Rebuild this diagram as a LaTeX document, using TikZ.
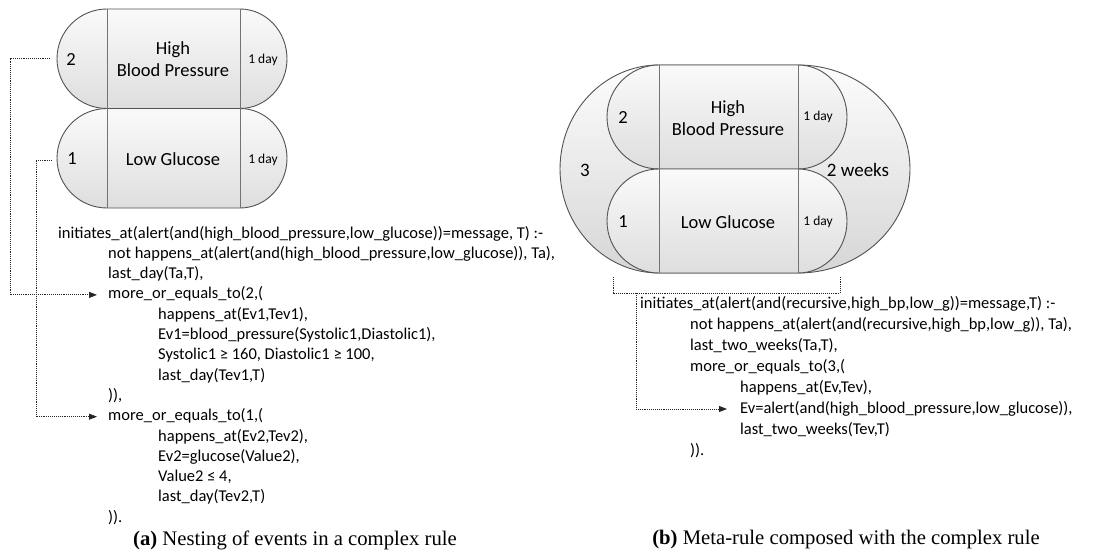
\documentclass[tikz,border=0pt]{standalone}
\usepackage{fontspec}
\setmainfont{Carlito}
\newfontfamily\capfont{Liberation Serif}
\usetikzlibrary{arrows.meta}

\tikzset{
  capsule/.style={draw=black!68, line width=0.9pt, top color=black!2, bottom color=black!13},
  outershape/.style={draw=black!68, line width=0.9pt, top color=black!1, bottom color=black!16},
  divider/.style={draw=black!55, line width=0.9pt},
  code/.style={anchor=west, inner sep=0pt, text height=12pt, text depth=4pt,
    font=\fontsize{16.5}{20}\selectfont},
  biglabel/.style={inner sep=0pt, align=center, font=\fontsize{18.5}{22}\selectfont},
  daylabel/.style={inner sep=0pt, font=\fontsize{13.5}{16}\selectfont},
  outerlabel/.style={inner sep=0pt, font=\fontsize{19}{22}\selectfont},
  caption/.style={inner sep=0pt, font=\capfont\fontsize{20.7}{24}\selectfont},
  conn/.style={densely dotted, line width=0.9pt, black!85},
  arr/.style={-{Triangle[length=8pt,width=6pt]}}
}

\begin{document}
\begin{tikzpicture}[x=1pt,y=-1pt]
\useasboundingbox (0,0) rectangle (1094,556);
\fill[white] (0,0) rectangle (1094,556);

% ---------- (a) two stacked event capsules ----------
\path[capsule] (107,9) -- (240,9)
  arc[start angle=-90, end angle=90, x radius=47, y radius=49.75]
  -- (107,108.5)
  arc[start angle=90, end angle=270, x radius=50, y radius=49.75] -- cycle;
\draw[divider] (107,9) -- (107,108.5) (240,9) -- (240,108.5);

\path[capsule] (107,108.5) -- (240,108.5)
  arc[start angle=-90, end angle=90, x radius=47, y radius=49.75]
  -- (107,208)
  arc[start angle=90, end angle=270, x radius=50, y radius=49.75] -- cycle;
\draw[divider] (107,108.5) -- (107,208) (240,108.5) -- (240,208);

\node[biglabel] (n2a) at (71,59) {2};
\node[biglabel] (hbpa) at (173,59) {High\\Blood Pressure};
\node[daylabel] (d2a) at (263,60) {1 day};
\node[biglabel] (n1a) at (72,159) {1};
\node[biglabel] (lga) at (173,159) {Low Glucose};
\node[daylabel] (d1a) at (263,160) {1 day};

\coordinate (capA2w) at (57,58.75);
\coordinate (capA1w) at (57,160);
\coordinate (railA) at (10,0);
\coordinate (railB) at (36,0);

% ---------- (a) rule text ----------
\node[code] (a1)  at (58,234)    {initiates\_at(alert(and(high\_blood\_pressure,low\_glucose))=message, T) :-};
\node[code] (a2)  at (108,254.3) {not happens\_at(alert(and(high\_blood\_pressure,low\_glucose)), Ta),};
\node[code] (a3)  at (108,274.6) {last\_day(Ta,T),};
\node[code] (a4)  at (108,294.9) {more\_or\_equals\_to(2,(};
\node[code] (a5)  at (158,315.2) {happens\_at(Ev1,Tev1),};
\node[code] (a6)  at (158,335.5) {Ev1=blood\_pressure(Systolic1,Diastolic1),};
\node[code] (a7)  at (158,355.8) {Systolic1 ≥ 160, Diastolic1 ≥ 100,};
\node[code] (a8)  at (158,376.1) {last\_day(Tev1,T)};
\node[code] (a9)  at (108,396.4) {)),};
\node[code] (a10) at (108,416.7) {more\_or\_equals\_to(1,(};
\node[code] (a11) at (158,437)   {happens\_at(Ev2,Tev2),};
\node[code] (a12) at (158,457.3) {Ev2=glucose(Value2),};
\node[code] (a13) at (158,477.6) {Value2 ≤ 4,};
\node[code] (a14) at (158,497.9) {last\_day(Tev2,T)};
\node[code] (a15) at (108,518.2) {)).};

\draw[conn, arr, shorten >=11pt] ([xshift=-7pt]capA2w) -- (capA2w -| railA) |- (a4.west);
\draw[conn, arr, shorten >=11pt] ([xshift=-5pt]capA1w) -- (capA1w -| railB) |- (a10.west);

% ---------- (b) meta-rule shape ----------
\path[outershape] (659,65) -- (798,65)
  arc[start angle=-90, end angle=90, x radius=112, y radius=104]
  -- (659,273)
  arc[start angle=90, end angle=270, x radius=99, y radius=104] -- cycle;

\path[capsule] (659,65) -- (798,65)
  arc[start angle=-90, end angle=90, x radius=49, y radius=52]
  -- (659,169)
  arc[start angle=90, end angle=270, x radius=52, y radius=52] -- cycle;
\draw[divider] (659,65) -- (659,169) (798,65) -- (798,169);

\path[capsule] (659,169) -- (798,169)
  arc[start angle=-90, end angle=90, x radius=49, y radius=52]
  -- (659,273)
  arc[start angle=90, end angle=270, x radius=52, y radius=52] -- cycle;
\draw[divider] (659,169) -- (659,273) (798,169) -- (798,273);

\node[outerlabel] (n3b) at (585,170) {3};
\node[outerlabel] (wkb) at (858,170) {2 weeks};
\node[biglabel] (n2b) at (623,117) {2};
\node[biglabel] (hbpb) at (728,118) {High\\Blood Pressure};
\node[daylabel] (d2b) at (818,117) {1 day};
\node[biglabel] (n1b) at (623,222) {1};
\node[biglabel] (lgb) at (728,222) {Low Glucose};
\node[daylabel] (d1b) at (818,222) {1 day};

\coordinate (brkL) at (613,277);
\coordinate (brkR) at (840,277);
\coordinate (brkY) at (0,293);
\coordinate (brkS) at (636,0);

% ---------- (b) rule text ----------
\node[code] (b1) at (640,304) {initiates\_at(alert(and(recursive,high\_bp,low\_g))=message,T) :-};
\node[code] (b2) at (690,325) {not happens\_at(alert(and(recursive,high\_bp,low\_g)), Ta),};
\node[code] (b3) at (690,346) {last\_two\_weeks(Ta,T),};
\node[code] (b4) at (690,367) {more\_or\_equals\_to(3,(};
\node[code] (b5) at (740,388) {happens\_at(Ev,Tev),};
\node[code] (b6) at (740,409) {Ev=alert(and(high\_blood\_pressure,low\_glucose)),};
\node[code] (b7) at (740,430) {last\_two\_weeks(Tev,T)};
\node[code] (b8) at (690,451) {)).};

\draw[conn] (brkL) -- (brkL |- brkY) -- (brkR |- brkY) -- (brkR);
\draw[conn, arr, shorten >=13pt] (brkS |- brkY) |- (b6.west);

% ---------- captions ----------
\node[caption] (capa) at (295,540) {\textbf{(a)} Nesting of events in a complex rule};
\node[caption] (capb) at (846,540) {\textbf{(b)} Meta-rule composed with the complex rule};
\end{tikzpicture}
\end{document}
